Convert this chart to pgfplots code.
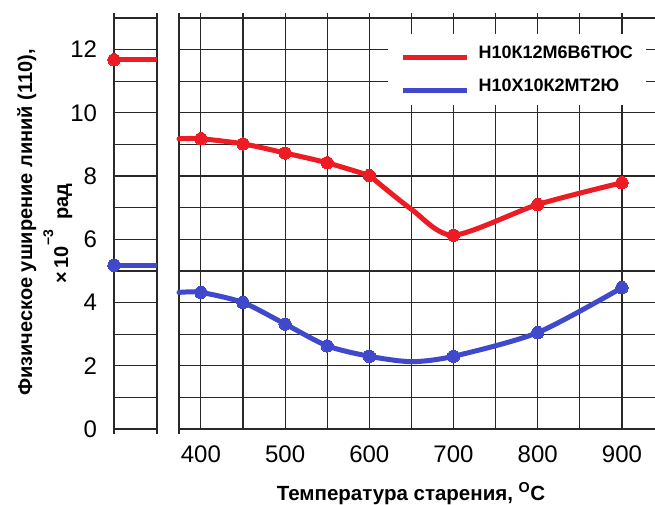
\documentclass[border=0pt]{standalone}
\usepackage{fontspec}
\setmainfont{Liberation Sans}
\usepackage{pgfplots}
\pgfplotsset{compat=1.18}

\definecolor{redline}{RGB}{237,28,36}
\definecolor{blueline}{RGB}{64,72,204}
\definecolor{gridcol}{RGB}{40,40,40}

% red: Н10К12М6В6ТЮС (two smooth pieces, corner at 600), blue: Н10Х10К2МТ2Ю
\pgfplotstableread{
T     w
374   9.18
400   9.18
450   9.02
500   8.73
550   8.42
600   8.02
}\redcurveA
\pgfplotstableread{
T     w
600   8.02
650   6.95
700   6.13
800   7.10
900   7.79
}\redcurveB
\pgfplotstableread{
T     w
400   9.18
450   9.02
500   8.73
550   8.42
600   8.02
700   6.13
800   7.10
900   7.79
}\redpoints
\pgfplotstableread{
T     w
374   4.32
400   4.32
450   4.00
500   3.32
550   2.63
600   2.30
650   2.13
700   2.30
800   3.05
900   4.47
}\bluecurve
\pgfplotstableread{
T     w
400   4.32
450   4.00
500   3.32
550   2.63
600   2.30
700   2.30
800   3.05
900   4.47
}\bluepoints

\begin{document}
\begin{tikzpicture}[x=1pt,y=1pt]
\path[use as bounding box] (0,0) rectangle (655,-505);

\pgfplotsset{
  panel/.style={
    scale only axis, height=411pt,
    ymin=0, ymax=13, ytick={0,1,...,13},
    axis line style={draw=none},
    grid=major,
    major grid style={gridcol, line width=1.2pt},
    tick style={gridcol, line width=1.2pt},
    tick align=outside, major tick length=4.5pt,
    clip=false,
    /pgf/number format/assume math mode=true,
    tick label style={font=\fontsize{24}{24}\selectfont},
    ytick style={draw=none},
  },
  curve/.style={line width=5pt, smooth, tension=0.45, line cap=round, line join=round},
  pts/.style={only marks, mark=*, mark size=6.2pt, mark options={solid, line width=0pt}},
}

% quenched state (before ageing)
\begin{axis}[panel, at={(114pt,-429pt)}, anchor=south west, width=43pt,
  xmin=0, xmax=1, xtick={0,1}, xticklabels={}, xtick pos=both,
  yticklabels={0,,2,,4,,6,,8,,10,,12,},
  yticklabel style={xshift=-9pt}]
\addplot[redline, line width=5pt, mark=*, mark size=6.2pt, mark indices={1},
  mark options={line width=0pt}] coordinates {(0,11.68) (1,11.68)};
\addplot[blueline, line width=5pt, mark=*, mark size=6.2pt, mark indices={1},
  mark options={line width=0pt}] coordinates {(0,5.18) (1,5.18)};
\end{axis}

% ageing temperatures
\begin{axis}[panel, at={(179pt,-429pt)}, anchor=south west, width=476.6pt,
  xmin=374, xmax=940, xtick={400,450,...,900},
  xticklabels={400,,500,,600,,700,,800,,900},
  xtick pos=right, xticklabel pos=left,
  extra x ticks={374}, extra x tick labels={},
  extra x tick style={xtick pos=both},
  yticklabels={},
  xticklabel style={yshift=-9pt},
  legend style={at={(axis cs:622,12.5)}, anchor=north west,
    draw=none, fill=white, inner xsep=13pt, inner ysep=12pt,
    font=\fontsize{18}{18}\selectfont\bfseries,
    nodes={inner sep=0pt},
    row sep=19pt, column sep=9pt},
  legend cell align=left,
  legend image code/.code={\draw[#1, line width=4.5pt, line cap=butt] (0pt,-4.5pt) -- (64pt,-4.5pt);}]
\addplot[redline, curve] table[x=T, y=w] {\redcurveA};
\addlegendentry{Н10К12М6В6ТЮС}
\addplot[blueline, curve] table[x=T, y=w] {\bluecurve};
\addlegendentry{Н10Х10К2МТ2Ю}
\addplot[redline, curve, forget plot] table[x=T, y=w] {\redcurveB};
\addplot[redline, pts, forget plot] table[x=T, y=w] {\redpoints};
\addplot[blueline, pts, forget plot] table[x=T, y=w] {\bluepoints};
\end{axis}

\node[anchor=base, font=\fontsize{20.5}{20.5}\selectfont\bfseries]
  at (411,-500) {Температура старения, \textsuperscript{O}C};
\node[anchor=base, rotate=90, font=\fontsize{20}{20}\selectfont\bfseries]
  at (32,-222.5) {Физическое уширение линий (110),};
\node[anchor=base, rotate=90, font=\fontsize{20}{20}\selectfont\bfseries]
  at (68,-233.5) {×\,10\raisebox{0.75em}{\fontsize{14}{14}\selectfont −3}\hspace{0.5em}рад};
\end{tikzpicture}
\end{document}
